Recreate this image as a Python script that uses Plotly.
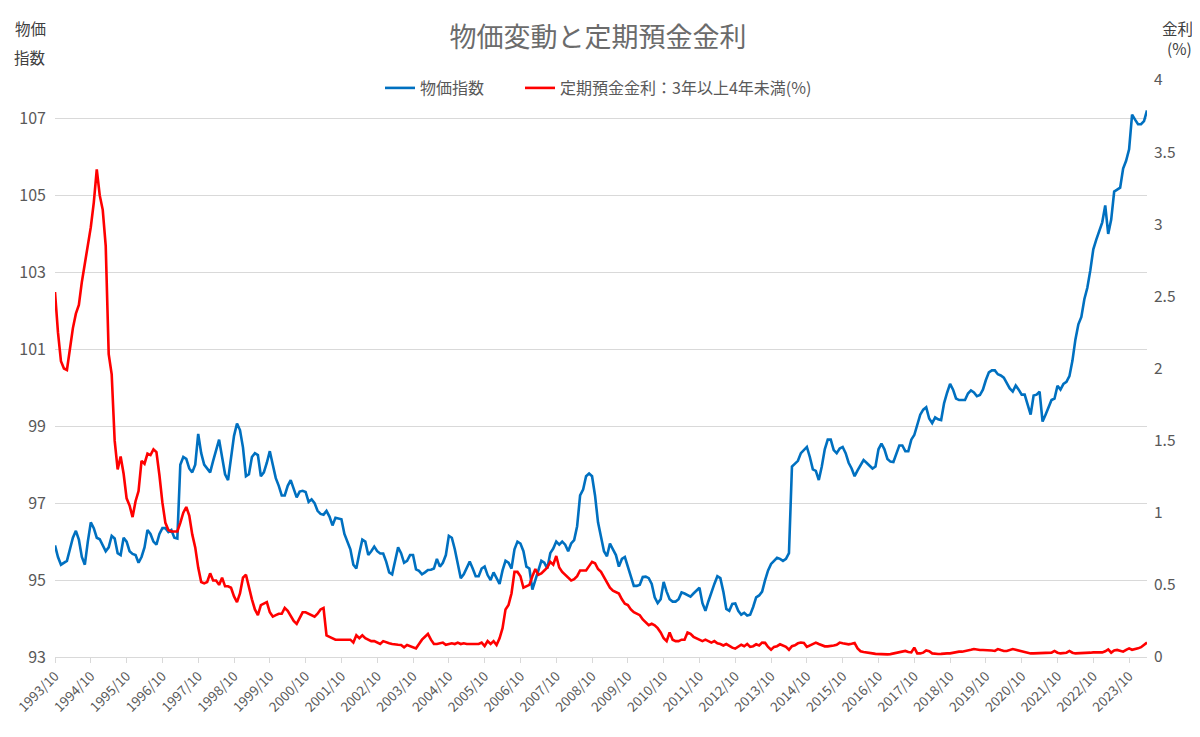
import plotly.graph_objects as go

# 物価指数 (monthly, 1993/10 - 2024/04)
cpi = [
    95.9, 95.6, 95.4, 95.45, 95.5, 95.8, 96.1, 96.28, 96.05, 95.6, 95.4, 96.0,
    96.5, 96.35, 96.1, 96.06, 95.9, 95.75, 95.85, 96.15, 96.08, 95.7, 95.65, 96.1,
    96.0, 95.75, 95.68, 95.65, 95.45, 95.6, 95.85, 96.3, 96.2, 96.0, 95.92, 96.2,
    96.35, 96.35, 96.25, 96.3, 96.1, 96.08, 98.0, 98.2, 98.15, 97.9, 97.8, 98.0,
    98.8, 98.3, 98.0, 97.9, 97.8, 98.1, 98.4, 98.65, 98.2, 97.75, 97.6, 98.2,
    98.75, 99.07, 98.9, 98.45, 97.7, 97.75, 98.2, 98.3, 98.25, 97.7, 97.8, 98.05,
    98.35, 98.0, 97.65, 97.45, 97.2, 97.2, 97.45, 97.6, 97.4, 97.15, 97.3, 97.32,
    97.29, 97.03, 97.1, 97.0, 96.8, 96.72, 96.7, 96.8, 96.65, 96.42, 96.62, 96.6,
    96.58, 96.2, 96.0, 95.8, 95.4, 95.3, 95.7, 96.05, 96.0, 95.65, 95.75, 95.87,
    95.75, 95.69, 95.69, 95.48, 95.2, 95.15, 95.5, 95.85, 95.7, 95.45, 95.5, 95.65,
    95.65, 95.28, 95.24, 95.15, 95.2, 95.26, 95.27, 95.3, 95.55, 95.35, 95.45, 95.65,
    96.15, 96.1, 95.8, 95.4, 95.05, 95.15, 95.3, 95.48, 95.3, 95.1, 95.1, 95.3,
    95.35, 95.13, 95.0, 95.2, 95.05, 94.9, 95.25, 95.5, 95.45, 95.3, 95.8, 96.0,
    95.95, 95.75, 95.35, 95.3, 94.75, 95.0, 95.3, 95.5, 95.45, 95.3, 95.7, 95.82,
    96.0, 95.92, 96.0, 95.92, 95.75, 95.95, 96.04, 96.4, 97.2, 97.35, 97.7, 97.77,
    97.7, 97.2, 96.5, 96.1, 95.75, 95.62, 95.95, 95.8, 95.65, 95.35, 95.55, 95.6,
    95.35, 95.1, 94.85, 94.85, 94.88, 95.08, 95.09, 95.05, 94.9, 94.55, 94.4, 94.5,
    94.95, 94.7, 94.5, 94.44, 94.44, 94.5, 94.68, 94.65, 94.6, 94.57, 94.65, 94.72,
    94.8, 94.4, 94.2, 94.45, 94.7, 94.9, 95.1, 95.05, 94.7, 94.25, 94.2, 94.38,
    94.39, 94.2, 94.1, 94.15, 94.08, 94.1, 94.3, 94.55, 94.6, 94.7, 95.0, 95.25,
    95.42, 95.5, 95.58, 95.55, 95.5, 95.55, 95.7, 97.95, 98.02, 98.1, 98.3, 98.38,
    98.46, 98.2, 97.88, 97.84, 97.6, 97.95, 98.4, 98.65, 98.65, 98.38, 98.3, 98.42,
    98.46, 98.3, 98.05, 97.9, 97.7, 97.85, 98.0, 98.12, 98.05, 97.98, 97.9, 97.95,
    98.4, 98.55, 98.4, 98.15, 98.08, 98.07, 98.3, 98.5, 98.5, 98.35, 98.35, 98.65,
    98.77, 99.05, 99.3, 99.43, 99.49, 99.2, 99.08, 99.23, 99.18, 99.16, 99.6, 99.87,
    100.1, 99.95, 99.72, 99.68, 99.68, 99.68, 99.85, 99.93, 99.88, 99.78, 99.81, 99.95,
    100.2, 100.4, 100.45, 100.45, 100.35, 100.32, 100.26, 100.12, 99.98, 99.9, 100.06, 99.95,
    99.82, 99.82, 99.55, 99.3, 99.8, 99.82, 99.9, 99.12, 99.3, 99.5, 99.68, 99.72,
    100.05, 99.95, 100.1, 100.15, 100.3, 100.7, 101.25, 101.65, 101.84, 102.3, 102.6, 103.05,
    103.6, 103.85, 104.05, 104.3, 104.74, 104.0, 104.37, 105.1, 105.15, 105.2, 105.7, 105.9,
    106.2, 107.1, 106.97, 106.85, 106.85, 106.93, 107.21,
]

# 定期預金金利：3年以上4年未満 (%)
rate = [
    2.53, 2.25, 2.05, 2.0, 1.99, 2.15, 2.28, 2.38, 2.44, 2.6, 2.72, 2.86,
    2.98, 3.15, 3.38, 3.2, 3.1, 2.85, 2.1, 1.96, 1.5, 1.3, 1.39, 1.27,
    1.1, 1.05, 0.97, 1.08, 1.15, 1.36, 1.34, 1.41, 1.4, 1.44, 1.42, 1.26,
    1.07, 0.93, 0.88, 0.87, 0.87, 0.87, 0.93, 1.0, 1.04, 0.98, 0.85, 0.76,
    0.62, 0.52, 0.51, 0.52, 0.58, 0.53, 0.53, 0.5, 0.55, 0.49, 0.49, 0.48,
    0.42, 0.38, 0.44, 0.55, 0.57, 0.48, 0.4, 0.33, 0.29, 0.36, 0.37, 0.38,
    0.31, 0.28, 0.29, 0.3, 0.3, 0.34, 0.32, 0.28, 0.25, 0.23, 0.27, 0.31,
    0.31, 0.3, 0.29, 0.28, 0.3, 0.33, 0.34, 0.15, 0.14, 0.13, 0.12, 0.12,
    0.12, 0.12, 0.12, 0.12, 0.1, 0.15, 0.13, 0.15, 0.13, 0.12, 0.11, 0.11,
    0.1, 0.09, 0.11, 0.1, 0.095, 0.09, 0.09, 0.085, 0.083, 0.067, 0.083, 0.075,
    0.07, 0.06, 0.09, 0.12, 0.14, 0.16, 0.12, 0.09, 0.09, 0.095, 0.1, 0.085,
    0.09, 0.095, 0.09, 0.1, 0.09, 0.095, 0.09, 0.09, 0.09, 0.09, 0.09, 0.1,
    0.076, 0.11, 0.09, 0.11, 0.083, 0.13, 0.2, 0.33, 0.36, 0.44, 0.59, 0.59,
    0.56, 0.48, 0.49, 0.5, 0.56, 0.61, 0.57, 0.58, 0.6, 0.62, 0.66, 0.64,
    0.7, 0.62, 0.59, 0.57, 0.55, 0.53, 0.54, 0.56, 0.6, 0.6, 0.6, 0.63,
    0.66, 0.65, 0.61, 0.59, 0.55, 0.51, 0.48, 0.46, 0.45, 0.44, 0.4, 0.37,
    0.36, 0.33, 0.31, 0.3, 0.29, 0.26, 0.24, 0.22, 0.23, 0.22, 0.2, 0.17,
    0.13, 0.11, 0.17, 0.12, 0.11, 0.11, 0.12, 0.12, 0.17, 0.16, 0.14, 0.13,
    0.12, 0.11, 0.12, 0.11, 0.1, 0.11, 0.095, 0.09, 0.08, 0.09, 0.075, 0.065,
    0.058, 0.07, 0.085, 0.075, 0.09, 0.07, 0.075, 0.088, 0.08, 0.1, 0.098, 0.07,
    0.05, 0.07, 0.075, 0.088, 0.08, 0.07, 0.05, 0.075, 0.081, 0.095, 0.1, 0.097,
    0.07, 0.08, 0.088, 0.1, 0.09, 0.08, 0.074, 0.074, 0.075, 0.08, 0.085, 0.1,
    0.095, 0.09, 0.088, 0.092, 0.097, 0.06, 0.04, 0.035, 0.03, 0.028, 0.025, 0.022,
    0.02, 0.018, 0.018, 0.018, 0.02, 0.025, 0.03, 0.037, 0.04, 0.042, 0.035, 0.032,
    0.065, 0.025, 0.025, 0.03, 0.045, 0.04, 0.025, 0.022, 0.021, 0.022, 0.025, 0.025,
    0.025, 0.03, 0.035, 0.037, 0.037, 0.04, 0.042, 0.05, 0.055, 0.05, 0.049, 0.049,
    0.049, 0.049, 0.045, 0.042, 0.055, 0.048, 0.042, 0.042, 0.05, 0.055, 0.05, 0.045,
    0.037, 0.033, 0.028, 0.025, 0.025, 0.025, 0.025, 0.025, 0.025, 0.025, 0.03, 0.042,
    0.03, 0.025, 0.025, 0.03, 0.042, 0.03, 0.025, 0.025, 0.025, 0.027, 0.03, 0.03,
    0.032, 0.032, 0.032, 0.032, 0.04, 0.053, 0.03, 0.045, 0.049, 0.042, 0.037, 0.05,
    0.06, 0.05, 0.053, 0.06, 0.068, 0.083, 0.1,
]

# month categories "1993/10" ... ; ticks every October
months = [f"{1993 + (9 + i) // 12}/{(9 + i) % 12 + 1}" for i in range(len(cpi))]
tick_months = [m for m in months if m.endswith("/10")]

FONT = "Noto Sans CJK JP"
GREY = "#595959"
GRID = "#d9d9d9"
OFF = 8  # the page puts the figure 8px in from the corner (body margin)
W, H = 1200 - 2 * OFF, 737 - 2 * OFF
L, R, T, B = 55 - OFF, 1192 - 1147, 80 - OFF, 729 - 657
PW, PH = W - L - R, H - T - B


def px_x(x):
    # page pixel -> paper x
    return (x - OFF - L) / PW


def px_y(y):
    # page pixel -> paper y
    return 1 - (y - OFF - T) / PH


fig = go.Figure()
fig.add_trace(go.Scatter(x=months, y=cpi, name="物価指数", mode="lines",
                         legend="legend",
                         line=dict(color="#0070C0", width=2.6)))
fig.add_trace(go.Scatter(x=months, y=rate, name="定期預金金利：3年以上4年未満(%)",
                         mode="lines", yaxis="y2", legend="legend2",
                         line=dict(color="#FF0000", width=2.6)))

legend_style = dict(orientation="h", xanchor="left", yanchor="middle",
                    y=px_y(88), font=dict(size=16, color=GREY),
                    bgcolor="rgba(255,255,255,0)", itemwidth=30)

fig.update_layout(
    width=W, height=H, margin=dict(l=L, r=R, t=T, b=B, autoexpand=False),
    paper_bgcolor="white", plot_bgcolor="white",
    font=dict(family=FONT, color=GREY, size=14),
    title=dict(text="物価変動と定期預金金利", x=px_x(598), xanchor="center",
               xref="paper", y=1 - (38 - OFF) / H, yanchor="middle",
               font=dict(size=27, color="#6b6b6b", family=FONT)),
    showlegend=True,
    legend=dict(x=px_x(380), **legend_style),
    legend2=dict(x=px_x(520), **legend_style),
    xaxis=dict(type="category", range=[0, len(months) - 1], automargin=False,
               tickmode="array", tickvals=tick_months, ticktext=tick_months,
               tickangle=-45, tickfont=dict(size=13.5, color=GREY),
               ticks="outside", ticklen=5, tickcolor=GRID,
               showline=True, linecolor=GRID, showgrid=False),
    yaxis=dict(range=[93, 108], tick0=93, dtick=2, showgrid=True,
               gridcolor=GRID, zeroline=False, showline=False, automargin=False,
               tickfont=dict(size=16, color=GREY), ticklabelstandoff=8),
    yaxis2=dict(range=[0, 4], dtick=0.5, overlaying="y", side="right",
                showgrid=False, zeroline=False, showline=False, automargin=False,
                tickfont=dict(size=15.5, color=GREY), ticklabelstandoff=6),
)

# axis titles
for txt, x, y in [("物価", 30, 28), ("指数", 30, 57), ("金利", 1177, 28), ("(%)", 1179, 48)]:
    fig.add_annotation(text=txt, xref="paper", yref="paper",
                       x=px_x(x), y=px_y(y), xanchor="center", yanchor="middle",
                       showarrow=False,
                       font=dict(size=15.5, color="#404040", family=FONT))

fig.write_html("out.html")
